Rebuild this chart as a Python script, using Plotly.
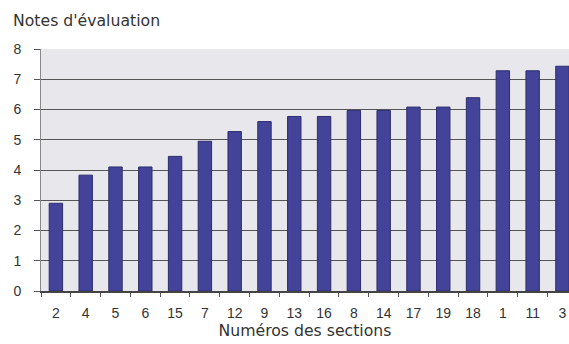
import plotly.graph_objects as go

sections = ["2", "4", "5", "6", "15", "7", "12", "9", "13", "16", "8", "14", "17", "19", "18", "1", "11", "3"]
notes = [2.9, 3.83, 4.1, 4.1, 4.45, 4.95, 5.27, 5.6, 5.77, 5.77, 5.97, 5.97, 6.08, 6.08, 6.39, 7.28, 7.28, 7.43]
y_ticks = [0, 1, 2, 3, 4, 5, 6, 7, 8]

tick_font = dict(family="Liberation Sans, Arial, sans-serif", size=14, color="#333333")
title_font = dict(family="DejaVu Sans, sans-serif", size=15.7, color="#333333")

fig = go.Figure(go.Bar(
    x=sections, y=notes, width=0.45,
    marker=dict(color="#43439a", line=dict(color="#2c2c6e", width=1)),
))

fig.update_layout(
    width=569, height=344,
    margin=dict(l=41, r=0, t=49, b=53),
    paper_bgcolor="white", plot_bgcolor="#e8e8ec",
    font=tick_font, showlegend=False,
    annotations=[dict(text="Notes d'évaluation", x=0, xref="paper", xanchor="left",
                      xshift=-30, y=1, yref="paper", yanchor="bottom", yshift=17,
                      showarrow=False, font=title_font)],
)
fig.update_xaxes(
    type="category", range=[-0.5, 17.22], tickson="boundaries",
    ticks="outside", ticklen=4, tickcolor="#555555",
    showline=True, linecolor="#444444", linewidth=1.5,
    ticklabelstandoff=8,
    title=dict(text="Numéros des sections", standoff=4, font=title_font),
    showgrid=False,
)
fig.update_yaxes(
    range=[0, 8], tickvals=y_ticks, ticks="outside", ticklen=6, tickcolor="#555555",
    showline=True, linecolor="#888888", linewidth=1,
    ticklabelstandoff=10,
    gridcolor="#555555", gridwidth=1, zeroline=False,
)
fig.write_html("out.html")
